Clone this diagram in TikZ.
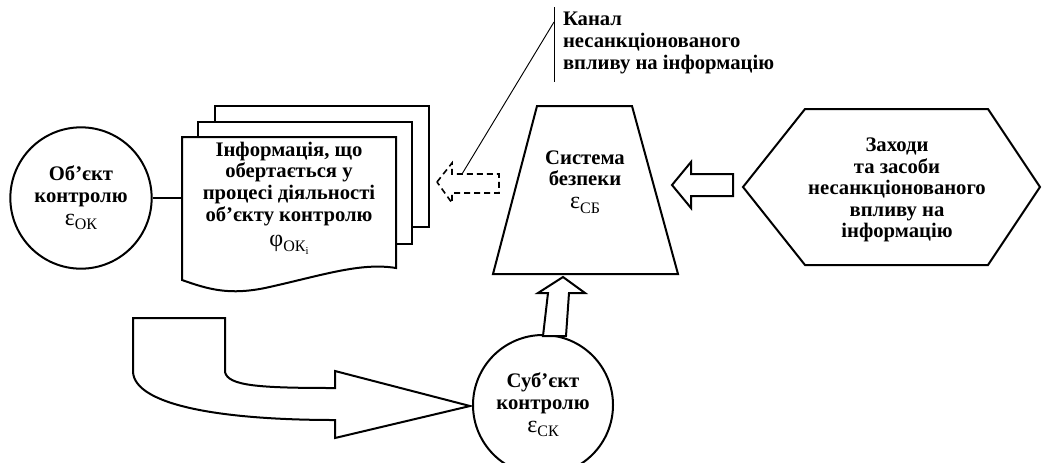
\documentclass[tikz,border=0pt]{standalone}
\usepackage{fontspec}
\setmainfont{Liberation Serif}
\usetikzlibrary{positioning}

\tikzset{
  lbl/.style={font=\bfseries\fontsize{15.5}{16.2}\selectfont, align=center, inner sep=0pt},
  blk/.style={draw, line width=1.5pt, fill=white},
  ring/.style={circle, draw, line width=1.5pt, inner sep=0pt}
}
\newcommand{\greeksub}[2]{{\mdseries\fontsize{18}{18}\selectfont #1}\raisebox{-3.5pt}{\mdseries\fontsize{12}{12}\selectfont #2}}

\begin{document}
\begin{tikzpicture}[x=0.75pt, y=-0.75pt, line width=1.5pt]
	\useasboundingbox (0,0) rectangle (1042,462);
	
	% об'єкт контролю
	\node[ring, lbl, minimum size=106pt] (obj) at (81,198) {Об’єкт\\контролю\\[1pt]\greeksub{ε}{ОК}};
	
	% стос документів
	\draw[blk] (215,106) rectangle (429,227);
	\draw[blk] (198,122) rectangle (412,244);
	\draw[blk] (182,137) -- (396,137) -- (396,268)
		.. controls (360,262) and (320,276) .. (265,288)
		.. controls (230,295) and (210,290) .. (182,280) -- cycle;
	\node[lbl, minimum width=160.5pt] (doc) at (289,198)
		{Інформація, що\\обертається у\\процесі діяльності\\об’єкту контролю\\[3pt]\greeksub{φ}{ОК\raisebox{-2pt}{\fontsize{8}{8}\selectfont i}}};
	\draw (obj.east) -- (doc.west);
	
	% пунктирна стрілка
	\draw[line width=1.2pt, dash pattern=on 4.5pt off 3pt]
		(437,182) -- (452,163) -- (452,174) -- (499,174) -- (499,193) -- (452,193) -- (452,203) -- cycle;
	\coordinate (lead) at (462,174);
	\coordinate (kink) at (554,22);
	\draw[line width=0.7pt] (lead) -- (kink);
	\draw[line width=0.7pt] (554,7) -- (554,82);
	\node[lbl, align=left, anchor=west] (chan) at (562,43)
		{Канал\\несанкціонованого\\впливу на інформацію};
	
	% система безпеки
	\draw[blk] (537,106) -- (632,106) -- (678,274) -- (493,274) -- cycle;
	\node[lbl] (sys) at (585,182) {Система\\безпеки\\[1pt]\greeksub{ε}{СБ}};
	
	% заходи та засоби
	\draw[blk] (743,187) -- (805,109) -- (988,109) -- (1040,187) -- (988,265) -- (805,265) -- cycle;
	\node[lbl] (means) at (897,190) {Заходи\\та засоби\\несанкціонованого\\впливу на\\інформацію};
	\draw[blk] (672,185) -- (691,162) -- (691,174) -- (733,174) -- (733,196) -- (691,196) -- (691,208) -- cycle;
	
	% суб'єкт контролю
	\node[ring, lbl, minimum size=105pt] (subj) at (543,405) {Суб’єкт\\контролю\\[1pt]\greeksub{ε}{СК}};
	\draw[blk] (563,277) -- (585,293) -- (569,293) -- (566,336) -- (543,336) -- (548,293) -- (538,293) -- cycle;
	
	% вигнута стрілка
	\draw[blk] (133,318) -- (225,318) -- (225,372)
		.. controls (228,386) and (260,388) .. (335,388) -- (335,371) -- (470,406)
		-- (335,438) -- (335,420)
		.. controls (220,420) and (135,405) .. (133,372) -- cycle;
\end{tikzpicture}
\end{document}
